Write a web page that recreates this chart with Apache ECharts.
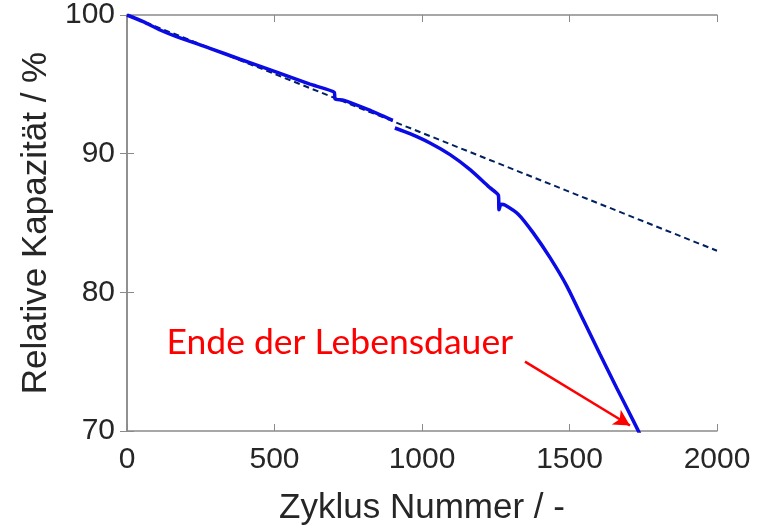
<!DOCTYPE html>
<html>
<head>
<meta charset="utf-8">
<script src="https://cdn.jsdelivr.net/npm/echarts@6/dist/echarts.min.js"></script>
<style>
    html, body { margin: 0; padding: 0; background: #fff; }
    #chart { width: 769px; height: 531px; }
</style>
</head>
<body>
<div id="chart"></div>
<script>
// measured capacity (blue), null = gap in the curve
const capCycle = [0, 55, 112, 168, 281, 383, 507, 620, 703, 705, 733, 818, 901, 904, 908, 959, 1027, 1095, 1163, 1231, 1259, 1261, 1268, 1281, 1327, 1377, 1434, 1491, 1547, 1603, 1660, 1716, 1745];
const capValue = [100, 99.52, 98.92, 98.44, 97.6, 96.81, 95.88, 95.01, 94.42, 93.95, 93.86, 93.17, 92.4, null, 91.85, 91.44, 90.77, 89.93, 88.85, 87.53, 87.0, 85.95, 86.35, 86.3, 85.62, 84.29, 82.5, 80.45, 78.0, 75.55, 73.1, 70.75, 69.5];

// linear trend (dashed)
const trendCycle = [0, 2000];
const trendValue = [100, 83];

// axis ticks
const xTicks = [0, 500, 1000, 1500, 2000];
const yTicks = [70, 80, 90, 100];

// annotation
const noteText = 'Ende der Lebensdauer';
const noteAt = [132, 76.4];
const arrowFrom = [1349, 75.0];
const arrowTo = [1705, 70.4];

const axisGray = '#8a8a8a';
const textGray = '#262626';

let chart = echarts.init(document.getElementById('chart'));

let option = {
    animation: false,
    grid: { left: 127, right: 52, top: 15, bottom: 99 },
    xAxis: [
        {
            type: 'value',
            min: xTicks[0],
            max: xTicks[xTicks.length - 1],
            interval: 500,
            name: 'Zyklus Nummer / -',
            nameLocation: 'middle',
            nameGap: 60,
            nameTextStyle: { fontFamily: 'Liberation Sans', fontSize: 35, color: textGray },
            axisLine: { show: true, lineStyle: { color: axisGray, width: 1.5 } },
            axisTick: { show: true, inside: true, length: 7, lineStyle: { color: axisGray } },
            axisLabel: { margin: 14, fontFamily: 'Liberation Sans', fontSize: 30, color: textGray, formatter: v => String(v) },
            splitLine: { show: false }
        },
        {
            type: 'value',
            position: 'top',
            min: xTicks[0],
            max: xTicks[xTicks.length - 1],
            interval: 500,
            axisLine: { show: true, lineStyle: { color: axisGray, width: 1.5 } },
            axisTick: { show: true, inside: true, length: 7, lineStyle: { color: axisGray } },
            axisLabel: { show: false },
            splitLine: { show: false }
        }
    ],
    yAxis: [
        {
            type: 'value',
            min: yTicks[0],
            max: yTicks[yTicks.length - 1],
            interval: 10,
            name: 'Relative Kapazität / %',
            nameLocation: 'middle',
            nameGap: 72,
            nameTextStyle: { fontFamily: 'Liberation Sans', fontSize: 35, color: textGray },
            axisLine: { show: true, lineStyle: { color: axisGray, width: 1.5 } },
            axisTick: { show: true, inside: true, length: 7, lineStyle: { color: axisGray } },
            axisLabel: { margin: 12, fontFamily: 'Liberation Sans', fontSize: 30, color: textGray },
            splitLine: { show: false }
        },
        {
            type: 'value',
            position: 'right',
            min: yTicks[0],
            max: yTicks[yTicks.length - 1],
            interval: 10,
            axisLine: { show: true, lineStyle: { color: axisGray, width: 1.5 } },
            axisTick: { show: true, inside: true, length: 7, lineStyle: { color: axisGray } },
            axisLabel: { show: false },
            splitLine: { show: false }
        }
    ],
    series: [
        {
            name: 'Trend',
            type: 'line',
            data: trendCycle.map((c, i) => [c, trendValue[i]]),
            symbol: 'none',
            lineStyle: { color: '#002060', width: 2, type: [6, 4] },
            z: 2
        },
        {
            name: 'Kapazität',
            type: 'line',
            data: capCycle.map((c, i) => [c, capValue[i] === null ? '-' : capValue[i]]),
            symbol: 'none',
            smooth: 0.2,
            connectNulls: false,
            lineStyle: { color: '#0b0be6', width: 3.5 },
            z: 3,
            markLine: {
                silent: true,
                symbol: ['none', 'arrow'],
                symbolSize: [13, 16],
                label: { show: false },
                lineStyle: { color: '#ff0000', width: 2.5, type: 'solid' },
                data: [[{ coord: arrowFrom }, { coord: arrowTo }]]
            },
            markPoint: {
                silent: true,
                symbol: 'circle',
                symbolSize: 1,
                itemStyle: { color: 'rgba(0,0,0,0)' },
                data: [{
                    coord: noteAt,
                    label: {
                        show: true,
                        formatter: noteText,
                        position: 'right',
                        distance: 0,
                        fontFamily: 'Lato',
                        fontSize: 35.5,
                        color: '#ff0000'
                    }
                }]
            }
        }
    ]
};

option && chart.setOption(option);
</script>
</body>
</html>
